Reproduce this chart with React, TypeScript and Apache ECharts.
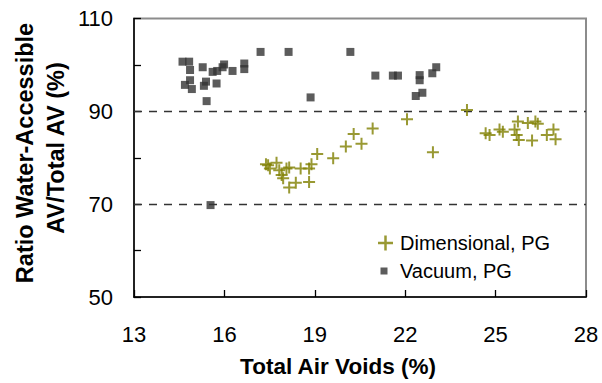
import React, { useEffect, useRef } from "react";
import * as echarts from "echarts";

const xTicks = [13, 16, 19, 22, 25, 28];
const yLabelValues = [50, 70, 90, 110];
const gridLineValues = [70, 90];

const dimensionalX = [
  17.45, 17.38, 17.51, 17.73, 17.82, 17.9, 17.95, 18.06, 18.15, 18.15, 18.37, 18.53,
  18.81, 18.81, 18.89, 19.08, 19.61, 20.03, 20.29, 20.55, 20.92, 22.06, 22.92, 24.05,
  24.67, 24.8, 25.13, 25.24, 25.74, 25.63, 25.7, 25.77, 26.07, 26.32, 26.4, 26.21,
  26.7, 26.92, 26.99,
];
const dimensionalY = [
  78.4, 78.6, 77.7, 78.9, 77.3, 76.3, 75.6, 77.7, 77.9, 73.6, 74.6, 77.7,
  77.7, 74.8, 78.6, 80.8, 79.9, 82.4, 85.1, 83.0, 86.3, 88.3, 81.2, 90.3,
  85.3, 84.9, 86.1, 85.6, 87.8, 86.1, 84.9, 83.8, 87.5, 87.8, 87.3, 83.7,
  84.9, 86.1, 84.0,
];

const vacuumX = [
  14.61, 14.83, 14.86, 14.86, 14.69, 14.92, 15.28, 15.39, 15.32, 15.41, 15.61, 15.76,
  15.74, 15.99, 15.94, 16.27, 16.66, 16.66, 17.2, 18.13, 18.86, 15.54, 20.18, 21.01,
  21.59, 21.76, 22.48, 22.48, 22.35, 22.57, 22.9, 23.03,
];
const vacuumY = [
  100.7, 100.7, 98.9, 96.7, 95.7, 94.8, 99.5, 96.4, 95.5, 92.2, 98.5, 98.7,
  96.0, 100.1, 99.5, 98.7, 100.3, 99.1, 102.8, 102.8, 93.0, 69.8, 102.8, 97.7,
  97.7, 97.7, 97.8, 96.7, 93.3, 94.0, 98.2, 99.5,
];

const plusPath = "path://M5,0H7V5H12V7H7V12H5V7H0V5H5Z";
const FONT = "Liberation Sans, Arial, sans-serif";

export default function App() {
  const ref = useRef<HTMLDivElement>(null);
  useEffect(() => {
    if (!ref.current) return;
    const chart = echarts.init(ref.current, null, { renderer: "svg" });
    const dimData = dimensionalX.map((x, i) => [x, dimensionalY[i]]);
    const vacData = vacuumX.map((x, i) => [x, vacuumY[i]]);
    chart.setOption({
      animation: false,
      backgroundColor: "#ffffff",
      textStyle: { fontFamily: FONT },
      grid: {
        left: 134,
        right: 16,
        top: 18.5,
        bottom: 86,
        show: true,
        borderColor: "#8c8c8c",
        borderWidth: 2,
        backgroundColor: "transparent",
      },
      xAxis: {
        type: "value",
        min: xTicks[0],
        max: xTicks[xTicks.length - 1],
        interval: 3,
        axisLine: { show: true, onZero: false, lineStyle: { color: "#000", width: 1.5 } },
        axisTick: { show: true, inside: true, length: 7, lineStyle: { color: "#000", width: 1.3 } },
        axisLabel: { fontSize: 22, color: "#000", margin: 26, fontFamily: FONT },
        splitLine: { show: false },
      },
      yAxis: {
        type: "value",
        min: 50,
        max: 110,
        interval: 10,
        axisLine: { show: true, onZero: false, lineStyle: { color: "#000", width: 1.5 } },
        axisTick: { show: true, inside: true, length: 7, lineStyle: { color: "#000", width: 1.3 } },
        axisLabel: {
          fontSize: 22,
          color: "#000",
          margin: 21,
          fontFamily: FONT,
          formatter: (v: number) => (yLabelValues.includes(v) ? String(v) : ""),
        },
        splitLine: { show: false },
      },
      legend: [
        {
          data: [{ name: "Dimensional, PG", icon: plusPath }],
          orient: "vertical",
          left: 373,
          top: 228,
          itemWidth: 15,
          itemHeight: 15,
          textStyle: { fontSize: 20, color: "#000", fontFamily: FONT, padding: [0, 0, 0, 2] },
        },
        {
          data: [{ name: "Vacuum, PG", icon: "rect" }],
          orient: "vertical",
          left: 375.5,
          top: 256,
          itemWidth: 7,
          itemHeight: 7,
          textStyle: { fontSize: 20, color: "#000", fontFamily: FONT, padding: [0, 0, 0, 7.5] },
        },
      ],
      graphic: [
        {
          type: "text",
          x: 338,
          y: 366,
          style: {
            text: "Total Air Voids (%)",
            font: `bold 22.5px ${FONT}`,
            fill: "#000",
            align: "center",
            verticalAlign: "middle",
          },
        },
        {
          type: "text",
          x: 25,
          y: 153,
          rotation: Math.PI / 2,
          style: {
            text: "Ratio Water-Accessible",
            font: `bold 23.5px ${FONT}`,
            fill: "#000",
            align: "center",
            verticalAlign: "middle",
          },
        },
        {
          type: "text",
          x: 56,
          y: 148,
          rotation: Math.PI / 2,
          style: {
            text: "AV/Total AV (%)",
            font: `bold 23.5px ${FONT}`,
            fill: "#000",
            align: "center",
            verticalAlign: "middle",
          },
        },
      ],
      series: [
        {
          name: "Dimensional, PG",
          type: "scatter",
          symbol: plusPath,
          symbolSize: 12,
          itemStyle: { color: "#808000" },
          data: dimData,
          z: 3,
        },
        {
          name: "Vacuum, PG",
          type: "scatter",
          symbol: "rect",
          symbolSize: 8,
          itemStyle: { color: "#333333" },
          data: vacData,
          z: 4,
          markLine: {
            silent: true,
            symbol: ["none", "none"],
            label: { show: false },
            lineStyle: { color: "#333", type: [8, 7], width: 1.3 },
            data: gridLineValues.map((v) => ({ yAxis: v })),
            z: 1,
          },
        },
      ],
    });
    return () => chart.dispose();
  }, []);
  return (
    <div
      ref={ref}
      style={{ position: "fixed", left: 0, top: 0, width: 602, height: 383, background: "#fff" }}
    />
  );
}
